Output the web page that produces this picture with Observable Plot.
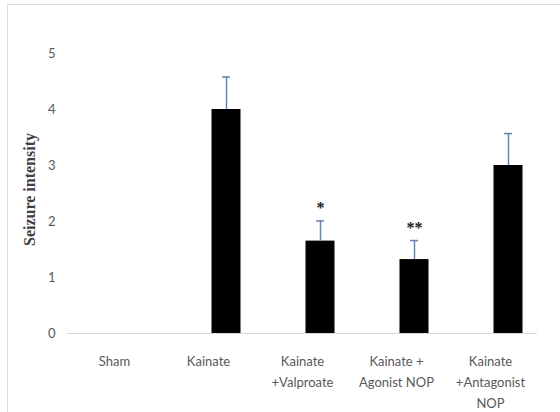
<!DOCTYPE html>
<html>
<head>
<meta charset="utf-8">
<script src="https://cdn.jsdelivr.net/npm/d3@7"></script>
<script src="https://cdn.jsdelivr.net/npm/@observablehq/plot@0.6"></script>
<style>
  html, body { margin: 0; padding: 0; background: #fff; }
  #wrap { position: relative; width: 560px; height: 412px; overflow: hidden; }
  #frame { position: absolute; left: 7px; top: 4px; width: 600px; height: 500px;
           border-top: 1px solid #dcdde8; border-left: 1px solid #dcdde8; pointer-events: none; }
  #chart { position: absolute; left: 0; top: 0; }
</style>
</head>
<body>
<div id="wrap"><div id="chart"></div><div id="frame"></div></div>
<script>
const categories = ["Sham", "Kainate", "Kainate\n+Valproate", "Kainate +\nAgonist NOP", "Kainate\n+Antagonist\nNOP"];
const means = [0, 4.0, 1.65, 1.32, 3.0];
const errors = [0, 0.58, 0.36, 0.34, 0.57];
const significance = ["", "", "*", "**", ""];
const yTicks = [0, 1, 2, 3, 4, 5];
const yTitle = "Seizure intensity";

const data = categories.map((c, i) => ({cat: c, mean: means[i], err: errors[i], sig: significance[i]}))
  .filter(d => d.mean > 0);

const chart = Plot.plot({
  width: 560,
  height: 412,
  marginLeft: 67,
  marginRight: 23,
  marginTop: 53,
  marginBottom: 79,
  style: {fontFamily: "Lato, 'Open Sans', sans-serif", fontSize: "13px", color: "#595959", background: "transparent"},
  x: {domain: categories, padding: 0, label: null},
  y: {domain: [0, 5], label: null},
  marks: [
    Plot.axisX({tickSize: 0, tickPadding: 18, lineHeight: 1.6, fill: "#595959", fontSize: 13}),
    Plot.axisY({ticks: yTicks, tickFormat: d3.format("d"), tickSize: 0, tickPadding: 12, fill: "#595959", fontSize: 13}),
    Plot.ruleY([0], {stroke: "#d9d9d9", strokeWidth: 1}),
    Plot.barY(data, {x: "cat", y: "mean", fill: "#000", insetLeft: 50.5, insetRight: 14.5}),
    Plot.ruleX(data, {x: "cat", y1: "mean", y2: d => d.mean + d.err, dx: 18, stroke: "#6384b8", strokeWidth: 1.5}),
    Plot.tickY(data, {x: "cat", y: d => d.mean + d.err, insetLeft: 61, insetRight: 25, stroke: "#6384b8", strokeWidth: 1.5}),
    Plot.text(data, {x: "cat", y: d => d.mean + d.err, text: "sig", dx: 18, dy: -13,
      fontFamily: "'Liberation Serif', serif", fontWeight: "bold", fontSize: 16, fill: "#222"}),
    Plot.text([yTitle], {frameAnchor: "left", textAnchor: "middle", rotate: -90, dx: -38, dy: -4,
      fontFamily: "'Liberation Serif', 'DejaVu Serif', serif", fontWeight: "bold", fontSize: 16, fill: "#404040"})
  ]
});
document.getElementById("chart").appendChild(chart);
</script>
</body>
</html>
